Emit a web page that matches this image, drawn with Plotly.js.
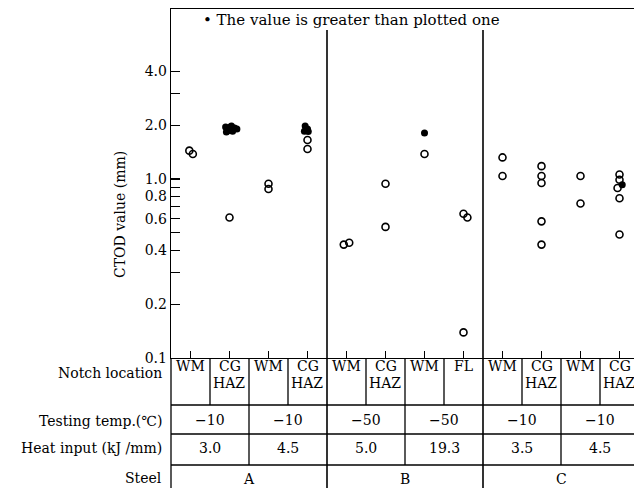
<!DOCTYPE html>
<html>
<head>
<meta charset="utf-8">
<script src="https://cdn.plot.ly/plotly-3.0.1.min.js"></script>
<style>html,body{margin:0;padding:0;background:#fff;}#chart{width:634px;height:488px;}</style>
</head>
<body>
<div id="chart"></div>
<script>
// ---- data ----
const notchTop = ["WM","CG","WM","CG","WM","CG","WM","FL","WM","CG","WM","CG"];
const notchBottom = ["","HAZ","","HAZ","","HAZ","","","","HAZ","","HAZ"];
const tempLabels = ["\u221210","\u221210","\u221250","\u221250","\u221210","\u221210"];
const heatLabels = ["3.0","4.5","5.0","19.3","3.5","4.5"];
const steelLabels = ["A","B","C"];
const rowLabels = ["Notch location","Testing temp.(\u2103)","Heat input (kJ /mm)","Steel"];

// open circles: x = notch column index (with small offset as drawn), y = CTOD (mm)
const openCol = [0,0, 1, 2,2, 3,3, 4,4, 5,5, 6, 7,7,7, 8,8, 9,9,9,9,9, 10,10, 11,11,11,11,11];
const openX = [-0.03,0.06, 0, 0,0, 0,0, -0.07,0.07, 0,0, 0, 0,0.1,0, 0,0, 0,0,0,0,0, 0,0, 0,0,-0.05,0,0];
const openY = [1.44,1.38, 0.61, 0.94,0.88, 1.65,1.47, 0.43,0.44, 0.94,0.54, 1.38, 0.64,0.61,0.139, 1.32,1.04, 1.18,1.04,0.95,0.58,0.43, 1.04,0.73, 1.06,0.99,0.89,0.78,0.49];

// filled dots: value greater than plotted one
const fillCol = [1,1,1,1,1,1,1,1, 3,3,3,3, 6, 11];
const fillX = [-0.1,-0.04,0.02,0.08,0.13,0.19,-0.08,0.05, -0.06,0.0,-0.08,0.02, 0, 0.07];
const fillY = [1.95,1.86,1.95,1.85,1.93,1.9,1.83,1.98, 1.98,1.9,1.85,1.84, 1.81, 0.93];

const yTickVals = [0.1,0.2,0.3,0.4,0.5,0.6,0.7,0.8,0.9,1,2,3,4];
const yTickText = ["0.1","0.2","","0.4","","0.6","","0.8","","1.0","2.0","","4.0"];

// ---- geometry helpers (pixels -> paper) ----
const L = 171, T = 9, W = 463, H = 349, B = T + H;
const px = p => (p - L) / W;
const py = p => (B - p) / H;
const FONT = "DejaVu Serif";

const traces = [
  {x: openCol.map((c,i)=>c+openX[i]), y: openY, type:'scatter', mode:'markers',
   marker:{symbol:'circle-open', size:7, color:'#000', line:{width:1.6,color:'#000'}},
   cliponaxis:false, hoverinfo:'y', showlegend:false},
  {x: fillCol.map((c,i)=>c+fillX[i]), y: fillY, type:'scatter', mode:'markers',
   marker:{symbol:'circle', size:7, color:'#000'},
   cliponaxis:false, hoverinfo:'y', showlegend:false}
];

const shapes = [];
const line = {color:'#000', width:1.3};
// table horizontal lines
[405,434,465].forEach(p=>shapes.push({type:'line', xref:'paper', yref:'paper', x0:0, x1:1, y0:py(p), y1:py(p), line}));
// left border of table
shapes.push({type:'line', xref:'paper', yref:'paper', x0:0, x1:0, y0:py(358), y1:py(488), line});
// notch-row dividers
notchTop.forEach((_,k)=>{ if(k%2===0 && k<notchTop.length-1) shapes.push({type:'line', xref:'x', yref:'paper', x0:k+0.5, x1:k+0.5, y0:py(358), y1:py(405), line}); });
// pair dividers (temp / heat)
tempLabels.forEach((_,j)=>{ const k=2*j+1; if(j<tempLabels.length-1 && (j%2===0)) shapes.push({type:'line', xref:'x', yref:'paper', x0:k+0.5, x1:k+0.5, y0:py(358), y1:py(465), line}); });
// steel dividers, through the plot
steelLabels.forEach((_,s)=>{ if(s<steelLabels.length-1){ const xv=4*s+3.5; shapes.push({type:'line', xref:'x', yref:'paper', x0:xv, x1:xv, y0:py(30), y1:py(488), line:{color:'#000',width:1.6}}); }});

const annotations = [];
const af = (size)=>({family:FONT, size, color:'#000'});
notchTop.forEach((t,k)=>annotations.push({xref:'x', yref:'paper', x:k, y:py(366), text:t, showarrow:false, xanchor:'center', yanchor:'middle', font:af(14)}));
notchBottom.forEach((t,k)=>{ if(t) annotations.push({xref:'x', yref:'paper', x:k-0.5+0.015, y:py(383), text:t, showarrow:false, xanchor:'left', yanchor:'middle', font:af(14)}); });
tempLabels.forEach((t,j)=>annotations.push({xref:'x', yref:'paper', x:2*j+0.5, y:py(420), text:t, showarrow:false, xanchor:'center', yanchor:'middle', font:af(14)}));
heatLabels.forEach((t,j)=>annotations.push({xref:'x', yref:'paper', x:2*j+0.5, y:py(448), text:t, showarrow:false, xanchor:'center', yanchor:'middle', font:af(14)}));
steelLabels.forEach((t,s)=>annotations.push({xref:'x', yref:'paper', x:4*s+1.5, y:py(479), text:t, showarrow:false, xanchor:'center', yanchor:'middle', font:af(14)}));
const rowY = [373,421,448,478];
rowLabels.forEach((t,i)=>annotations.push({xref:'paper', yref:'paper', x:px(164), y:py(rowY[i]), text:t, showarrow:false, xanchor:'right', yanchor:'middle', font:af(14)}));
annotations.push({xref:'paper', yref:'paper', x:px(120), y:py(215), text:'CTOD value (mm)', textangle:-90, showarrow:false, xanchor:'center', yanchor:'middle', font:af(14)});
annotations.push({xref:'paper', yref:'paper', x:px(201), y:py(20), text:'\u2022 The value is greater than plotted one', showarrow:false, xanchor:'left', yanchor:'middle', font:af(15)});

const layout = {
  width:634, height:488,
  margin:{l:L, r:0, t:T, b:488-B, pad:0},
  paper_bgcolor:'#fff', plot_bgcolor:'#fff',
  showlegend:false,
  font:{family:FONT, color:'#000', size:14},
  xaxis:{range:[-0.5, -0.5 + W/39], showline:true, linecolor:'#000', linewidth:1.3, mirror:true,
         ticks:'inside', ticklen:7, tickcolor:'#000', tickwidth:1.2,
         tickvals:notchTop.map((_,k)=>k), showticklabels:false, showgrid:false, zeroline:false, fixedrange:true},
  yaxis:{type:'log', range:[-1, Math.log10(0.1)+H/179], showline:true, linecolor:'#000', linewidth:1.3,
         ticks:'inside', ticklen:9, tickcolor:'#000', tickwidth:1.2,
         tickvals:yTickVals, ticktext:yTickText, tickfont:af(14),
         showgrid:false, zeroline:false, fixedrange:true},
  shapes, annotations
};
Plotly.newPlot('chart', traces, layout, {staticPlot:true, displayModeBar:false});
</script>
</body>
</html>
